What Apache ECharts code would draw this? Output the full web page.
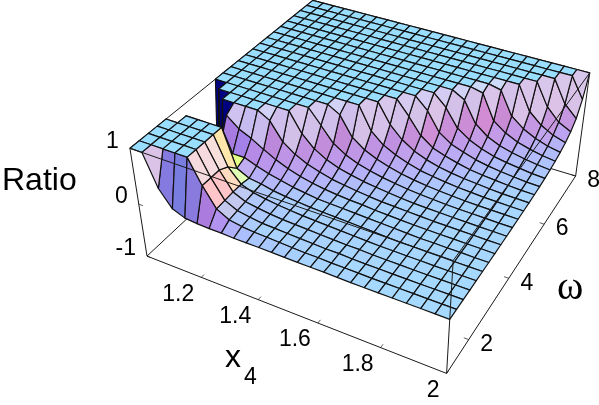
<!DOCTYPE html>
<html>
<head>
<meta charset="utf-8">
<title>Ratio surface</title>
<script src="https://cdn.jsdelivr.net/npm/echarts@6/dist/echarts.min.js"></script>
<style>
  html, body { margin: 0; padding: 0; background: #fff; }
  #chart { width: 599px; height: 405px; }
</style>
</head>
<body>
<div id="chart"></div>
<script>
const xRange = [1, 2];
const omegaRange = [1, 8];
const ratioRange = [-1, 1];
const xTicks = [1.2, 1.4, 1.6, 1.8, 2];
const omegaTicks = [2, 4, 6, 8];
const ratioTicks = [-1, 0, 1];

// ratio, one list per x4 grid line, omega low to high (clipped at +-1)
const ratioX00 = [1,1,1,1,1,-1,-1,-1,-1,-1,1,1,1,1,1,1,1,1,1,1,1,1,1,1,1];
const ratioX01 = [1,1,1,1,1,1,-1,-1,-1,1,1,1,1,1,1,1,1,1,1,1,1,1,1,1,1];
const ratioX02 = [.44,1,1,1,1,1,-1,-1,1,1,1,1,1,1,1,1,1,1,1,1,1,1,1,1,1];
const ratioX03 = [.15,1,1,1,1,1,.5,.9,1,1,1,1,1,1,1,1,1,1,1,1,1,1,1,1,1];
const ratioX04 = [.06,1,1,1,1,1,.4,.72,1,1,1,1,1,1,1,1,1,1,1,1,1,1,1,1,1];
const ratioX05 = [.04,.58,.58,.58,.5,.34,.4,.62,1,1,1,1,1,1,1,1,1,1,1,1,1,1,1,1,1];
const ratioX06 = [.03,.24,.25,.26,.26,.23,.32,.49,.88,1,1,1,1,1,1,1,1,1,1,1,1,1,1,1,1];
const ratioX07 = [.03,.12,.14,.16,.18,.2,.25,.37,.57,1,1,1,1,1,1,1,1,1,1,1,1,1,1,1,1];
const ratioX08 = [.02,.08,.1,.12,.14,.15,.2,.28,.41,.66,1,1,1,1,1,1,1,1,1,1,1,1,1,1,1];
const ratioX09 = [.02,.06,.07,.09,.11,.12,.15,.21,.3,.45,.75,1,1,1,1,1,1,1,1,1,1,1,1,1,1];
const ratioX10 = [.02,.05,.06,.07,.09,.1,.12,.16,.23,.32,.49,.88,1,1,1,1,1,1,1,1,1,1,1,1,1];
const ratioX11 = [.017,.04,.05,.06,.07,.08,.09,.125,.17,.24,.35,.54,1,1,1,1,1,1,1,1,1,1,1,1,1];
const ratioX12 = [.012,.03,.04,.05,.06,.07,.08,.1,.135,.185,.26,.38,.6,1,1,1,1,1,1,1,1,1,1,1,1];
const ratioX13 = [.01,.02,.03,.04,.05,.06,.07,.08,.105,.14,.2,.28,.41,.66,1,1,1,1,1,1,1,1,1,1,1];
const ratioX14 = [.01,.02,.02,.03,.04,.05,.06,.07,.08,.11,.15,.21,.3,.45,.75,1,1,1,1,1,1,1,1,1,1];
const ratioX15 = [.01,.01,.02,.02,.03,.04,.05,.05,.06,.085,.115,.155,.22,.31,.47,.8,1,1,1,1,1,1,1,1,1];
const ratioX16 = [.005,.01,.01,.02,.02,.03,.04,.04,.05,.06,.085,.115,.155,.22,.31,.47,.8,1,1,1,1,1,1,1,1];
const ratioX17 = [0,.005,.005,.01,.01,.02,.03,.03,.04,.045,.065,.085,.12,.16,.23,.32,.49,.88,1,1,1,1,1,1,1];
const ratioX18 = [0,0,.005,.005,.01,.01,.02,.02,.03,.035,.05,.065,.09,.12,.17,.24,.34,.51,.95,1,1,1,1,1,1];
const ratioX19 = [0,0,0,.005,.005,.01,.01,.015,.02,.03,.035,.05,.065,.09,.12,.17,.24,.34,.51,.95,1,1,1,1,1];
const ratioX20 = [0,0,0,0,.005,.005,.01,.012,.017,.022,.027,.035,.05,.07,.09,.125,.17,.24,.35,.54,1,1,1,1,1];
const ratioX21 = [0,0,0,0,0,.005,.005,.01,.012,.017,.022,.027,.035,.05,.07,.095,.13,.18,.25,.37,.57,1,1,1,1];
const ratioX22 = [0,0,0,0,0,0,.005,.005,.01,.012,.018,.022,.03,.035,.05,.07,.1,.135,.185,.26,.38,.6,1,1,1];
const ratioX23 = [0,0,0,0,0,0,0,.005,.005,.01,.012,.018,.022,.03,.035,.05,.07,.1,.135,.185,.26,.38,.6,1,1];
const ratioX24 = [0,0,0,0,0,0,0,0,.005,.005,.01,.014,.019,.024,.03,.04,.055,.075,.105,.14,.19,.27,.39,.63,1];
const ratioGrid = [ratioX00,ratioX01,ratioX02,ratioX03,ratioX04,ratioX05,ratioX06,ratioX07,ratioX08,ratioX09,
  ratioX10,ratioX11,ratioX12,ratioX13,ratioX14,ratioX15,ratioX16,ratioX17,ratioX18,ratioX19,
  ratioX20,ratioX21,ratioX22,ratioX23,ratioX24];

// camera, same as the default 3D plot viewpoint
const eye = [1.3, -2.4, 2];
const boxHeight = 0.4;
const eyeLen = Math.hypot(eye[0], eye[1], eye[2]);
const forward = eye.map(v => -v / eyeLen);
const rightLen = Math.hypot(forward[1], forward[0]);
const right = [forward[1] / rightLen, -forward[0] / rightLen, 0];
const up = [
  right[1] * forward[2] - right[2] * forward[1],
  right[2] * forward[0] - right[0] * forward[2],
  right[0] * forward[1] - right[1] * forward[0]
];
const dot = (a, b) => a[0] * b[0] + a[1] * b[1] + a[2] * b[2];

function toBox(x, omega, ratio) {
  return [
    (x - xRange[0]) / (xRange[1] - xRange[0]) - 0.5,
    (omega - omegaRange[0]) / (omegaRange[1] - omegaRange[0]) - 0.5,
    ((ratio - ratioRange[0]) / (ratioRange[1] - ratioRange[0]) - 0.5) * boxHeight
  ];
}
function depth(p) {
  return eyeLen + dot(p, forward);
}
function project(p) {
  const d = depth(p);
  return [dot(p, right) / d, dot(p, up) / d];
}

const cols = ratioGrid.length - 1;
const rows = ratioX00.length - 1;
function gridPoint(i, j) {
  return toBox(
    xRange[0] + (xRange[1] - xRange[0]) * i / cols,
    omegaRange[0] + (omegaRange[1] - omegaRange[0]) * j / rows,
    ratioGrid[i][j]
  );
}

// colour from the cell normal, fitted by eye to the picture's lighting
function shade(i, j) {
  const a = gridPoint(i, j), b = gridPoint(i + 1, j), c = gridPoint(i + 1, j + 1), d = gridPoint(i, j + 1);
  const u = [c[0] - a[0], c[1] - a[1], c[2] - a[2]];
  const v = [d[0] - b[0], d[1] - b[1], d[2] - b[2]];
  const n = [u[1] * v[2] - u[2] * v[1], u[2] * v[0] - u[0] * v[2], u[0] * v[1] - u[1] * v[0]];
  const len = Math.hypot(n[0], n[1], n[2]) || 1;
  const nx = n[0] / len, ny = n[1] / len, nz = n[2] / len;
  const lift = 0.3 * Math.max(0, ny);
  const warm = Math.max(0, nx - 0.55);
  let r = 0.3 + 0.15 * nx + 0.35 * nx * nx - 0.1 * ny + 0.3 * nz + lift + 0.5 * warm;
  let g = 1.04 - 0.2 * nx + 0.15 * nx * nx + 0.4 * ny - 0.12 * ny * ny - 0.17 * nz + lift - 0.3 * warm;
  let bl = 1 - 0.3 * nx * nx - 0.13 * ny * ny - 0.5 * Math.max(0, ny);

  const zs = [ratioGrid[i][j], ratioGrid[i + 1][j], ratioGrid[i + 1][j + 1], ratioGrid[i][j + 1]];
  const top = Math.max.apply(null, zs), low = Math.min.apply(null, zs);
  if (top === 1 && low < 1 && top - low < 0.65) {
    // cells cut by the clip at 1 come out pale
    r = r * 0.4 + 0.92 * 0.6;
    g = g * 0.4 + 0.89 * 0.6;
    bl = bl * 0.4 + 0.96 * 0.6;
  } else if (top < 1) {
    r += 0.05;
    g -= 0.02;
  }
  if (nx < -0.1) {
    // facing away from the lights, goes navy
    const t = Math.min(1, (-0.1 - nx) / 0.3);
    r *= 1 - t;
    g *= 1 - t;
    bl = bl * (1 - t) + 0.5 * t;
  }
  const ch = k => Math.round(Math.max(0, Math.min(1, k)) * 255);
  return 'rgb(' + ch(r) + ',' + ch(g) + ',' + ch(bl) + ')';
}

// painter's order, far cells first
const cells = [];
for (let i = 0; i < cols; i++) {
  for (let j = 0; j < rows; j++) {
    const c = toBox(
      xRange[0] + (xRange[1] - xRange[0]) * (i + 0.5) / cols,
      omegaRange[0] + (omegaRange[1] - omegaRange[0]) * (j + 0.5) / rows,
      (ratioGrid[i][j] + ratioGrid[i + 1][j] + ratioGrid[i][j + 1] + ratioGrid[i + 1][j + 1]) / 4
    );
    cells.push({ i: i, j: j, d: depth(c) });
  }
}
cells.sort((a, b) => b.d - a.d);
const cellData = cells.map(c => [c.i, c.j]);

const corner = (xi, oi, ri) => [xRange[xi], omegaRange[oi], ratioRange[ri]];
const backEdges = [
  [corner(0,1,0), corner(0,0,0)], [corner(0,1,0), corner(1,1,0)], [corner(0,1,0), corner(0,1,1)],
  [corner(0,1,1), corner(0,0,1)], [corner(0,1,1), corner(1,1,1)]
];
const frontEdges = [
  [corner(0,0,0), corner(0,0,1)], [corner(0,0,0), corner(1,0,0)], [corner(1,0,0), corner(1,1,0)],
  [corner(1,1,0), corner(1,1,1)], [corner(0,0,1), corner(1,0,1)], [corner(1,0,1), corner(1,1,1)],
  [corner(1,0,0), corner(1,0,1)]
];
const tickSegments = [];
xTicks.forEach(t => tickSegments.push([[t, 1, -1], [t, 1.1, -1]]));
omegaTicks.forEach(t => tickSegments.push([[2, t, -1], [1.985, t, -1]]));
ratioTicks.forEach(t => tickSegments.push([[1, 1, t], [1.015, 1, t]]));

function segmentSeries(segments, width) {
  return {
    type: 'custom',
    silent: true,
    animation: false,
    clip: false,
    data: segments.map((s, idx) => [idx, 0]),
    renderItem: function (params, api) {
      const s = segments[api.value(0)];
      const a = api.coord(project(toBox(s[0][0], s[0][1], s[0][2])));
      const b = api.coord(project(toBox(s[1][0], s[1][1], s[1][2])));
      return {
        type: 'line',
        shape: { x1: a[0], y1: a[1], x2: b[0], y2: b[1] },
        style: { stroke: '#1a1a1a', lineWidth: width }
      };
    }
  };
}

function labelSeries(ticks, where, dx, dy, align) {
  return {
    type: 'custom',
    silent: true,
    animation: false,
    clip: false,
    data: ticks.map((t, idx) => [idx, 0]),
    renderItem: function (params, api) {
      const t = ticks[api.value(0)];
      const w = where(t);
      const a = api.coord(project(toBox(w[0], w[1], w[2])));
      return {
        type: 'text',
        style: {
          text: String(t),
          x: a[0] + dx,
          y: a[1] + dy,
          fill: '#000',
          font: '23px "Liberation Sans"',
          textAlign: align,
          textVerticalAlign: 'middle'
        }
      };
    }
  };
}

const chart = echarts.init(document.getElementById('chart'), null, { renderer: 'canvas' });
chart.setOption({
  animation: false,
  backgroundColor: '#fff',
  grid: { left: 0, right: 0, top: 0, bottom: 0 },
  // screen plane of the camera, 1105 px per unit
  xAxis: { type: 'value', min: -0.336, max: 0.2061, show: false },
  yAxis: { type: 'value', min: -0.2187, max: 0.1477, show: false },
  series: [
    segmentSeries(backEdges, 1),
    {
      type: 'custom',
      silent: true,
      animation: false,
      clip: false,
      data: cellData,
      renderItem: function (params, api) {
        const i = api.value(0), j = api.value(1);
        const pts = [gridPoint(i, j), gridPoint(i + 1, j), gridPoint(i + 1, j + 1), gridPoint(i, j + 1)];
        return {
          type: 'polygon',
          shape: { points: pts.map(p => api.coord(project(p))) },
          style: { fill: shade(i, j), stroke: '#111', lineWidth: 1.2, lineJoin: 'round' }
        };
      }
    },
    segmentSeries(frontEdges, 1),
    segmentSeries(tickSegments, 0.7),
    labelSeries(xTicks, t => [t, 1, -1], -7, 17, 'right'),
    labelSeries(omegaTicks, t => [2, t, -1], 18, 5, 'center'),
    labelSeries(ratioTicks, t => [1, 1, t], -11, -7, 'right')
  ],
  graphic: [
    { type: 'text', left: 2, top: 165, style: { text: 'Ratio', fill: '#000', font: '32px "Liberation Sans"' } },
    { type: 'text', left: 225, top: 342, style: { text: 'x', fill: '#000', font: '32px "Liberation Sans"' } },
    { type: 'text', left: 244, top: 366, style: { text: '4', fill: '#000', font: '23px "Liberation Sans"' } },
    { type: 'text', left: 557, top: 268, style: { text: 'ω', fill: '#000', font: '40px "Liberation Serif"' } }
  ]
});
</script>
</body>
</html>
